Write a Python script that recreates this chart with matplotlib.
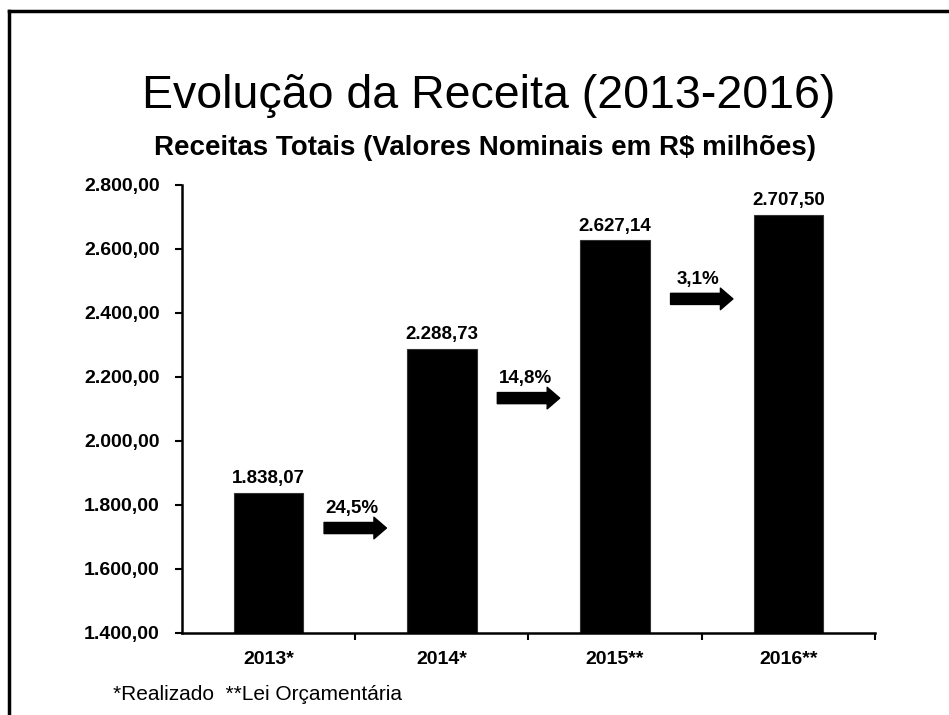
import matplotlib.pyplot as plt
from matplotlib.lines import Line2D
from matplotlib.ticker import FuncFormatter, FixedLocator
import numpy as np

plt.rcParams['font.family'] = ['Liberation Sans', 'DejaVu Sans']

# dados (R$ milhões)
anos = ['2013*', '2014*', '2015**', '2016**']
receitas = [1838.07, 2288.73, 2627.14, 2707.50]
crescimento = ['24,5%', '14,8%', '3,1%']
# altura (no eixo y) onde ficam as setas de crescimento
altura_setas = [1728, 2134, 2444]


def br(v, casas=2):
    s = f'{v:,.{casas}f}'
    return s.replace(',', 'X').replace('.', ',').replace('X', '.')


fig = plt.figure(figsize=(9.49, 7.15), dpi=100)
ax = fig.add_axes([0.1918, 0.1147, 0.7302, 0.6266])

x = np.arange(len(anos))
barras = ax.bar(x, receitas, width=0.4, color='black', edgecolor='#333333', linewidth=0.8)

ax.set_xlim(-0.5, len(anos) - 0.5)
ax.set_ylim(1400, 2800)
ax.set_yticks(np.arange(1400, 2801, 200))
ax.yaxis.set_major_formatter(FuncFormatter(lambda v, p: br(v)))
ax.set_xticks(x)
ax.set_xticklabels(anos)
ax.xaxis.set_minor_locator(FixedLocator(x + 0.5))
ax.tick_params(axis='x', which='major', length=0, pad=13)
ax.tick_params(axis='x', which='minor', length=5, width=1.5, direction='out')
ax.tick_params(axis='y', length=5, width=1.5, direction='out', pad=11)
for lab in ax.get_yticklabels():
    lab.set_fontweight('bold')
    lab.set_fontsize(14)
for lab in ax.get_xticklabels():
    lab.set_fontweight('bold')
    lab.set_fontsize(14)

for s in ['top', 'right']:
    ax.spines[s].set_visible(False)
ax.spines['left'].set_linewidth(1.8)
ax.spines['bottom'].set_linewidth(1.8)

# rótulos de valor
for b, v in zip(barras, receitas):
    ax.annotate(br(v), xy=(b.get_x() + b.get_width() / 2, v), xytext=(0, 4),
                textcoords='offset points', ha='center', va='bottom',
                fontsize=13.5, fontweight='bold')

# setas de crescimento
for i, (txt, yv) in enumerate(zip(crescimento, altura_setas)):
    xc = i + 0.5
    ax.annotate('', xy=(xc + 0.18, yv), xytext=(xc - 0.18, yv),
                arrowprops=dict(arrowstyle='simple,head_length=0.9,head_width=1.55,tail_width=0.8',
                                color='black', shrinkA=0, shrinkB=0, mutation_scale=10))
    ax.annotate(txt, xy=(xc - 0.02, yv), xytext=(0, 14), textcoords='offset points',
                ha='center', va='center', fontsize=13.5, fontweight='bold')

fig.text(0.515, 0.866, 'Evolução da Receita (2013-2016)', ha='center', va='center', fontsize=33.5)
fig.text(0.511, 0.793, 'Receitas Totais (Valores Nominais em R$ milhões)', ha='center', va='center',
         fontsize=20, fontweight='bold')
fig.text(0.119, 0.028, '*Realizado  **Lei Orçamentária', ha='left', va='center', fontsize=15)

# moldura (topo e lado esquerdo)
fig.add_artist(Line2D([0.009, 1.0], [0.984, 0.984], color='black', linewidth=2.5, transform=fig.transFigure))
fig.add_artist(Line2D([0.009, 0.009], [0.0, 0.984], color='black', linewidth=2.5, transform=fig.transFigure))

fig.savefig('out.png', dpi=100)
